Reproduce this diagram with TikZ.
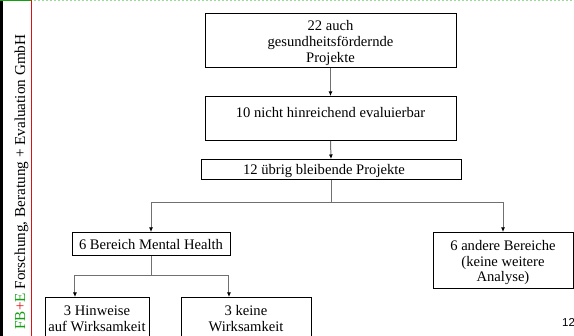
\documentclass[tikz,border=0pt]{standalone}
\usepackage{fontspec}
\setmainfont{Liberation Serif}
\newfontfamily\sansf{Liberation Sans}
\usetikzlibrary{arrows.meta,calc}
\definecolor{fbgreen}{HTML}{10A010}
\definecolor{fbred}{HTML}{E01010}
\definecolor{lgreen}{HTML}{9ADB9A}
\definecolor{connc}{HTML}{707070}
\begin{document}
\begin{tikzpicture}[x=1pt,y=-1pt,
  box/.style={draw=black,line width=0.9pt,align=center,inner sep=0pt,anchor=north,
    font=\fontsize{14.6}{15.8}\selectfont},
  conn/.style={draw=connc,line width=1pt,-{Latex[black,length=4.5pt,width=4pt]}},
  plainline/.style={draw=connc,line width=1pt}]
\useasboundingbox (0,0) rectangle (574,336);
\clip (0,0) rectangle (574,336);
% side bar
\fill[black] (0,0) rectangle (2.5,336);
\draw[fbgreen,line width=1.5pt] (0,0.75) -- (31,0.75);
\draw[fbred,line width=1pt] (31.5,0) -- (31.5,336);
\draw[lgreen,line width=1pt,dash pattern=on 2pt off 2pt] (34,0.5) -- (574,0.5);
\node[rotate=90,anchor=base,inner sep=0pt,font=\fontsize{15.2}{17}\selectfont] (side) at (25,182)
  {\textcolor{fbgreen}{FB}\textcolor{fbred}{+}\textcolor{fbgreen}{E} Forschung, Beratung + Evaluation GmbH};
% boxes (multi-line: text height measured from the last baseline)
\node[box,minimum width=251pt,text height=49pt,text depth=5pt] (b1) at (330.5,13)
  {22 auch\\gesundheitsfördernde\\Projekte};
\node[box,minimum width=251pt,text height=21.5pt,text depth=22.5pt] (b2) at (330.5,96)
  {10 nicht hinreichend evaluierbar};
\node[box,minimum width=260pt,text height=15pt,text depth=5pt] (b3) at (331,159)
  {12 übrig bleibende Projekte\hspace*{14pt}};
\node[box,minimum width=158pt,text height=17pt,text depth=6pt] (mh) at (151,232)
  {6 Bereich Mental Health};
\node[box,minimum width=140pt,text height=49.5pt,text depth=6.5pt] (ab) at (503,232)
  {6 andere Bereiche\\(keine weitere\\Analyse)};
\node[box,minimum width=104pt,text height=34pt,text depth=26pt] (hw) at (97,297)
  {3 Hinweise\\auf Wirksamkeit};
\node[box,minimum width=130pt,text height=34pt,text depth=26pt] (kw) at (246,297)
  {3 keine\\Wirksamkeit};
\node[font=\sansf\fontsize{11.5}{12}\selectfont,inner sep=0pt] (pg) at (568.5,322.5) {12};
% connectors
\draw[conn] (b1.south) -- (b2.north);
\draw[conn] (b2.south) -- (b3.north);
\coordinate (s1) at ($(b3.south)+(0,23)$);
\draw[plainline] (b3.south) -- (s1);
\draw[conn] (s1) -| (mh.north);
\draw[conn] (s1) -| (ab.north);
\coordinate (s2) at ($(mh.south)+(0,20)$);
\draw[plainline] (mh.south) -- (s2);
\draw[conn] (s2) -| ($(hw.north west)!0.29!(hw.north east)$);
\draw[conn] (s2) -| ($(kw.north west)!0.37!(kw.north east)$);
\end{tikzpicture}
\end{document}
